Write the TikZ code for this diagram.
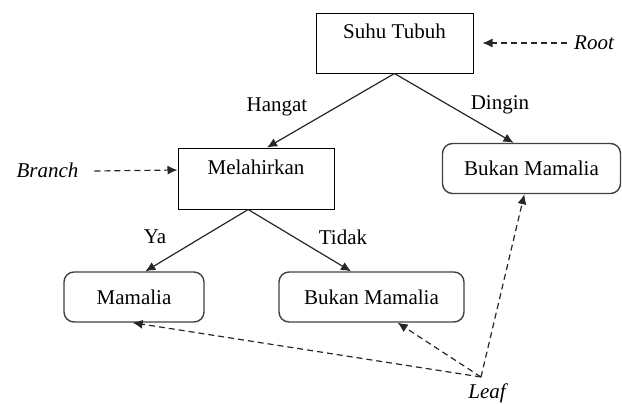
\documentclass[tikz,border=0pt]{standalone}
\usepackage{fontspec}
\setmainfont{Liberation Serif}
\usetikzlibrary{calc}
\usetikzlibrary{arrows.meta}
\tikzset{>={Latex[length=5pt,width=4.5pt]}}
\tikzset{box/.style={draw,inner sep=0pt,line width=0.5pt,minimum width=#1}}
\tikzset{leafbox/.style={draw=black!75,rounded corners=5pt,line width=0.7pt,minimum height=25pt,minimum width=#1}}
\tikzset{dashline/.style={dashed,dash pattern=on 3pt off 2pt,line width=0.6pt,draw=black!85,->}}
\tikzset{edge/.style={line width=0.6pt,draw=black!85,->}}

\begin{document}
\begin{tikzpicture}[x=0.5pt,y=-0.5pt,font=\fontsize{10.5}{12}\selectfont]
                    \useasboundingbox (0,0) rectangle (622,403);

                    \node[box=78.5pt,text height=12.5pt,text depth=17.5pt] (suhu) at (394.5,43) {Suhu Tubuh};
                    \node[box=78pt,text height=13pt,text depth=17.5pt] (mel) at (256,178.5) {Melahirkan};
                    \node[leafbox=89pt] (bukan1) at (531.5,168.5) {Bukan Mamalia};
                    \node[leafbox=70pt] (mam) at (134,297) {Mamalia};
                    \node[leafbox=92.5pt] (bukan2) at (371.5,297) {Bukan Mamalia};

                    \node (root) at (594,43) {\itshape Root};
                    \node (branch) at (47.5,170) {\itshape Branch};
                    \coordinate (leafpt) at (481,377);
                    \node (leaf) at (487,393) {\itshape Leaf};

                    \node (hangat) at (277,107) {Hangat};
                    \node (dingin) at (500,105) {Dingin};
                    \node (ya) at (155,237) {Ya};
                    \node (tidak) at (343,237) {Tidak};

                    \draw[edge] (suhu.south) -- ($(mel.north west)!0.57!(mel.north east)$);
                    \draw[edge] (suhu.south) -- ($(bukan1.north west)!0.40!(bukan1.north east)$);
                    \draw[edge] ($(mel.south west)!0.45!(mel.south east)$) -- ($(mam.north west)!0.58!(mam.north east)$);
                    \draw[edge] ($(mel.south west)!0.45!(mel.south east)$) -- ($(bukan2.north west)!0.39!(bukan2.north east)$);

                    \draw[dashline,shorten >=4.5pt] (root.west) -- (root.west -| suhu.east);
                    \draw[dashline] (branch.east) ++(9,1) -- (branch.east -| mel.west);
                    \draw[dashline] (leafpt) -- ($(mam.south west)!0.49!(mam.south east)$);
                    \draw[dashline] (leafpt) -- ($(bukan2.south west)!0.64!(bukan2.south east)$);
                    \draw[dashline] (leafpt) -- ($(bukan1.south west)!0.46!(bukan1.south east)$);
                \end{tikzpicture}
\end{document}
